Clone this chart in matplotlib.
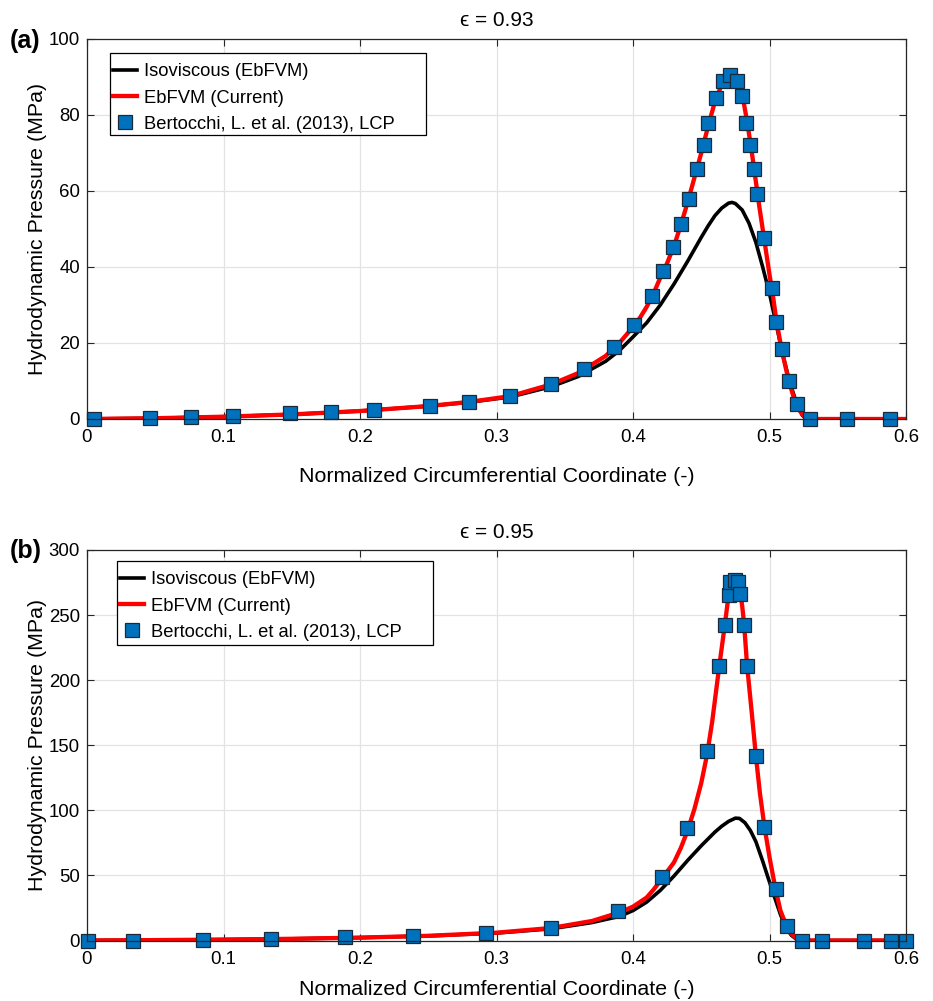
import matplotlib
matplotlib.use("Agg")
import matplotlib.pyplot as plt
from matplotlib.patches import Rectangle

plt.rcParams['font.family'] = ['Liberation Sans', 'DejaVu Sans']

# ---------------- Panel (a): eps = 0.93 ----------------
iso_a_x = [0.0, 0.05, 0.10, 0.15, 0.20, 0.25, 0.28, 0.31, 0.34, 0.36, 0.38, 0.39, 0.40, 0.41, 0.42,
           0.43, 0.44, 0.45, 0.455, 0.46, 0.465, 0.47, 0.4725, 0.475, 0.48, 0.485, 0.49, 0.495,
           0.50, 0.505, 0.51, 0.515, 0.52, 0.524, 0.527, 0.60]
iso_a_y = [0.0, 0.2, 0.6, 1.2, 2.1, 3.4, 4.4, 5.8, 8.5, 11.2, 15.2, 18.0, 21.6, 25.3, 30.0,
           35.5, 41.5, 47.8, 50.8, 53.5, 55.5, 56.8, 57.0, 56.7, 55.0, 51.5, 46.5, 40.0,
           33.0, 24.8, 16.5, 9.5, 4.0, 1.0, 0.0, 0.0]

cur_a_x = [0.0, 0.05, 0.10, 0.15, 0.20, 0.25, 0.28, 0.31, 0.34, 0.36, 0.38, 0.39, 0.40, 0.405,
           0.41, 0.415, 0.42, 0.425, 0.43, 0.435, 0.44, 0.445, 0.45, 0.455, 0.46, 0.465,
           0.4685, 0.4715, 0.4745, 0.4775, 0.48, 0.4825, 0.485, 0.4875, 0.49, 0.4925, 0.495,
           0.4975, 0.50, 0.5025, 0.505, 0.5075, 0.51, 0.5125, 0.515, 0.5175, 0.52, 0.5225,
           0.525, 0.529, 0.60]
cur_a_y = [0.0, 0.2, 0.6, 1.2, 2.1, 3.4, 4.5, 6.0, 9.1, 12.1, 16.6, 20.0, 24.2, 26.6,
           29.5, 33.0, 37.2, 41.0, 45.5, 51.0, 57.0, 63.5, 70.0, 77.0, 83.5, 88.0,
           89.9, 90.5, 89.9, 88.0, 85.5, 80.5, 75.0, 69.0, 62.5, 56.0, 50.0,
           44.0, 38.0, 32.5, 26.0, 21.0, 16.5, 12.5, 9.0, 6.0, 3.8, 2.0,
           0.8, 0.0, 0.0]

ber_a_x = [0.005, 0.046, 0.076, 0.107, 0.149, 0.179, 0.210, 0.251, 0.280, 0.310, 0.340, 0.364,
           0.386, 0.401, 0.414, 0.422, 0.429, 0.435, 0.441, 0.447, 0.452, 0.455, 0.461, 0.466,
           0.471, 0.476, 0.480, 0.483, 0.486, 0.489, 0.491, 0.496, 0.502, 0.505, 0.509, 0.514,
           0.520, 0.530, 0.557, 0.588]
ber_a_y = [0.0, 0.2, 0.5, 0.7, 1.5, 1.8, 2.4, 3.5, 4.5, 6.0, 9.2, 13.2,
           18.9, 24.7, 32.3, 38.9, 45.2, 51.3, 57.9, 65.9, 72.2, 78.0, 84.6, 89.0,
           90.5, 89.0, 85.0, 77.8, 72.1, 65.8, 59.1, 47.6, 34.5, 25.4, 18.5, 10.0,
           3.9, 0.0, 0.0, 0.0]

# ---------------- Panel (b): eps = 0.95 ----------------
iso_b_x = [0.0, 0.05, 0.10, 0.15, 0.20, 0.25, 0.30, 0.34, 0.37, 0.39, 0.40, 0.41, 0.42, 0.43,
           0.44, 0.45, 0.46, 0.465, 0.47, 0.475, 0.478, 0.482, 0.486, 0.49, 0.495, 0.4995,
           0.503, 0.508, 0.512, 0.516, 0.52, 0.522, 0.60]
iso_b_y = [0.0, 0.3, 0.7, 1.3, 2.2, 3.5, 5.7, 9.0, 13.8, 18.5, 23.0, 29.5, 38.5, 49.5,
           61.5, 72.8, 83.3, 87.8, 91.5, 94.0, 93.8, 90.5, 84.5, 76.0, 61.0, 46.5,
           35.5, 20.0, 10.0, 4.0, 0.8, 0.0, 0.0]

cur_b_x = [0.0, 0.05, 0.10, 0.15, 0.20, 0.25, 0.30, 0.34, 0.37, 0.39, 0.40, 0.41, 0.415,
           0.4216, 0.43, 0.435, 0.44, 0.445, 0.45, 0.4543, 0.458, 0.4631, 0.4672, 0.470,
           0.472, 0.474, 0.476, 0.478, 0.480, 0.4814, 0.4836, 0.487, 0.490, 0.493, 0.4963,
           0.50, 0.5044, 0.508, 0.5125, 0.516, 0.520, 0.5237, 0.60]
cur_b_y = [0.0, 0.3, 0.7, 1.3, 2.2, 3.6, 6.0, 9.6, 15.0, 21.5, 26.0, 33.0, 39.0,
           48.0, 60.0, 71.0, 84.5, 101.0, 121.0, 143.0, 168.0, 210.0, 242.0, 265.0,
           274.0, 278.0, 277.5, 271.0, 257.0, 243.0, 211.0, 175.0, 142.0, 113.0, 87.5,
           64.0, 39.6, 23.0, 11.0, 5.0, 1.5, 0.0, 0.0]

ber_b_x = [0.0007, 0.034, 0.085, 0.135, 0.189, 0.239, 0.292, 0.340, 0.389, 0.4216, 0.4397,
           0.4543, 0.4631, 0.4672, 0.4702, 0.4714, 0.4746, 0.4768, 0.4782, 0.4814, 0.4836,
           0.490, 0.4963, 0.5044, 0.5125, 0.5237, 0.5387, 0.569, 0.589, 0.600]
ber_b_y = [0.0, 0.0, 0.5, 1.0, 2.5, 3.3, 5.5, 9.6, 23.0, 48.8, 86.3,
           145.8, 211.2, 242.2, 265.8, 275.2, 277.3, 275.2, 266.3, 242.7, 211.2,
           141.9, 87.5, 39.6, 11.2, 0.0, 0.0, 0.0, 0.0, 0.0]

x_ticks = [0, 0.1, 0.2, 0.3, 0.4, 0.5, 0.6]
x_ticklabels = ['0', '0.1', '0.2', '0.3', '0.4', '0.5', '0.6']
y_ticks_a = [0, 20, 40, 60, 80, 100]
y_ticks_b = [0, 50, 100, 150, 200, 250, 300]

labels = ['Isoviscous (EbFVM)', 'EbFVM (Current)', 'Bertocchi, L. et al. (2013), LCP']
titles = ['\u03f5 = 0.93', '\u03f5 = 0.95']
panel_tags = ['(a)', '(b)']

W, H = 933, 1001
fig = plt.figure(figsize=(W / 100, H / 100), dpi=100)

axcol = (0.15, 0.15, 0.15)
TFS = 13.4     # tick labels
LFS = 15.4     # axis labels
GFS = 13.2     # legend

AX_L, AX_R = 87, 906


def make_panel(ax_top, ax_bot, ix, iy, cx, cy, bx, by, yticks, ymax, title, tag,
               leg_box, xlabelpad, tag_y):
    rect = [AX_L / W, 1 - ax_bot / H, (AX_R - AX_L) / W, (ax_bot - ax_top) / H]
    ax = fig.add_axes(rect)
    ax.plot(ix, iy, color='black', lw=2.6, label=labels[0], zorder=3,
            solid_joinstyle='round')
    ax.plot(cx, cy, color='#ff0000', lw=3.1, label=labels[1], zorder=4,
            solid_joinstyle='round')
    ax.plot(bx, by, ls='none', marker='s', ms=9.5, mfc='#0072BD', mec='#1a2a3a',
            mew=0.9, label=labels[2], zorder=5, clip_on=False)
    ax.set_xlim(0, 0.6)
    ax.set_ylim(0, ymax)
    ax.set_xticks(x_ticks)
    ax.set_xticklabels(x_ticklabels)
    ax.set_yticks(yticks)
    ax.grid(True, color='#e3e3e3', lw=0.9)
    ax.set_axisbelow(True)
    ax.tick_params(direction='in', length=5, width=0.8, colors=axcol, labelsize=TFS,
                   top=True, right=True, labelcolor='black')
    ax.tick_params(axis='x', pad=7.5)
    ax.tick_params(axis='y', pad=5)
    for s in ax.spines.values():
        s.set_color(axcol)
        s.set_linewidth(0.9)
        s.set_zorder(6)
    ax.set_xlabel('Normalized Circumferential Coordinate (-)', fontsize=LFS, labelpad=xlabelpad)
    ax.set_ylabel('Hydrodynamic Pressure (MPa)', fontsize=LFS, labelpad=1)
    ax.set_title(title, fontsize=15, pad=9)

    # legend frame (MATLAB style, wider than its content)
    lx0, ly0, lx1, ly1 = leg_box          # pixel coords: left, top, right, bottom
    w_ax = AX_R - AX_L
    h_ax = ax_bot - ax_top
    fx0 = (lx0 - AX_L) / w_ax
    fx1 = (lx1 - AX_L) / w_ax
    fy_top = (ax_bot - ly0) / h_ax
    fy_bot = (ax_bot - ly1) / h_ax
    frame = Rectangle((fx0, fy_bot), fx1 - fx0, fy_top - fy_bot, transform=ax.transAxes,
                      facecolor='white', edgecolor='black', lw=0.9, zorder=7)
    ax.add_patch(frame)
    leg = ax.legend(loc='upper left', bbox_to_anchor=(fx0 - 3 / w_ax, fy_top - 4 / h_ax),
                    fontsize=GFS, frameon=False,
                    handlelength=1.3, handletextpad=0.38, borderpad=0.35,
                    labelspacing=0.5, borderaxespad=0)
    leg.set_zorder(8)
    fig.text(10 / W, 1 - tag_y / H, tag, fontsize=18,
             fontweight='bold', ha='left', va='center')
    return ax


make_panel(39, 419, iso_a_x, iso_a_y, cur_a_x, cur_a_y, ber_a_x, ber_a_y,
           y_ticks_a, 100, titles[0], panel_tags[0], (110, 53, 426, 135), 15, 41)
make_panel(550, 940.5, iso_b_x, iso_b_y, cur_b_x, cur_b_y, ber_b_x, ber_b_y,
           y_ticks_b, 300, titles[1], panel_tags[1], (117, 561, 433, 645), 9, 551)

fig.savefig('out.png', dpi=100)
